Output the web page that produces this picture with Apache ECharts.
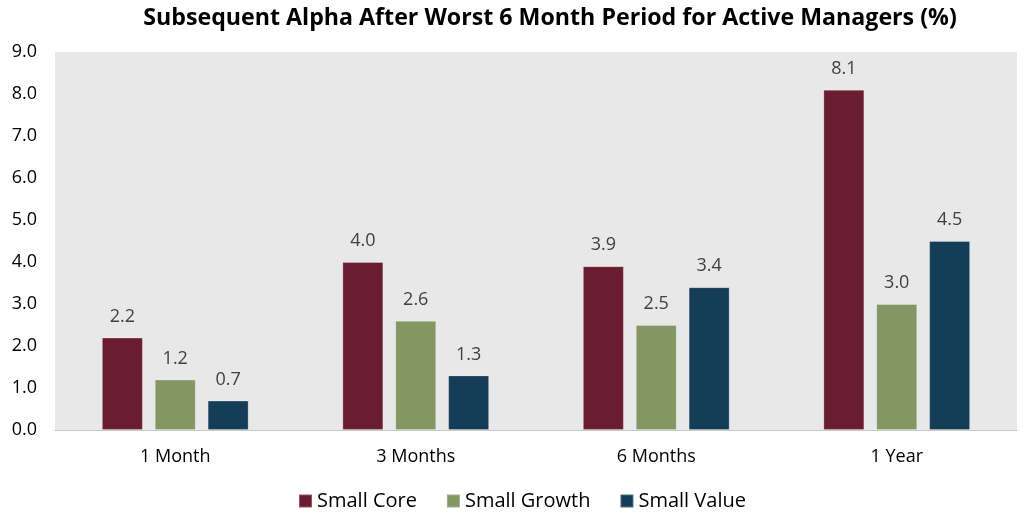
<!DOCTYPE html>
<html><head><meta charset="utf-8">
<script src="https://cdn.jsdelivr.net/npm/echarts@6/dist/echarts.min.js"></script>
<style>html,body{margin:0;padding:0;background:#fff}#c{width:1024px;height:514px}</style>
</head><body><div id="c"></div>
<script>
const categories = ['1 Month', '3 Months', '6 Months', '1 Year'];
const smallCore = [2.2, 4.0, 3.9, 8.1];
const smallGrowth = [1.2, 2.6, 2.5, 3.0];
const smallValue = [0.7, 1.3, 3.4, 4.5];
const seriesNames = ['Small Core', 'Small Growth', 'Small Value'];
const colors = ['#6a1d32', '#839664', '#163d57'];

const font = '"Open Sans", "Noto Sans", sans-serif';
const chart = echarts.init(document.getElementById('c'));
const mk = (name, data, color) => ({
  name, type: 'bar', data, barWidth: 41, barGap: '29%',
  itemStyle: { color, borderColor: 'rgba(255,255,255,0.25)', borderWidth: 1 },
  label: { show: true, position: 'top', distance: 12, formatter: p => p.value.toFixed(1),
    color: '#404040', fontSize: 18, fontFamily: font }
});
chart.setOption({
  animation: false,
  title: { text: 'Subsequent Alpha After Worst 6 Month Period for Active Managers (%)',
    left: 545, textAlign: 'center', top: 2,
    textStyle: { fontSize: 23.2, fontWeight: 'bold', color: '#000', fontFamily: font } },
  grid: { left: 55, right: 7, top: 52, bottom: 84, show: true, backgroundColor: '#e8e8e8', borderWidth: 0 },
  legend: { bottom: -2, left: 293, itemWidth: 13, itemHeight: 13, itemGap: 29, icon: 'rect',
    textStyle: { fontSize: 20, color: '#000', fontFamily: font },
    data: seriesNames },
  xAxis: { type: 'category', data: categories,
    axisLine: { lineStyle: { color: '#c8c8c8', width: 1 } }, axisTick: { show: false },
    axisLabel: { fontSize: 18, color: '#000', margin: 18, fontFamily: font } },
  yAxis: { type: 'value', min: 0, max: 9, interval: 1,
    splitLine: { show: false },
    axisLabel: { formatter: v => v.toFixed(1), fontSize: 18, color: '#000', margin: 18, fontFamily: font } },
  series: [mk(seriesNames[0], smallCore, colors[0]), mk(seriesNames[1], smallGrowth, colors[1]), mk(seriesNames[2], smallValue, colors[2])]
});
</script></body></html>
